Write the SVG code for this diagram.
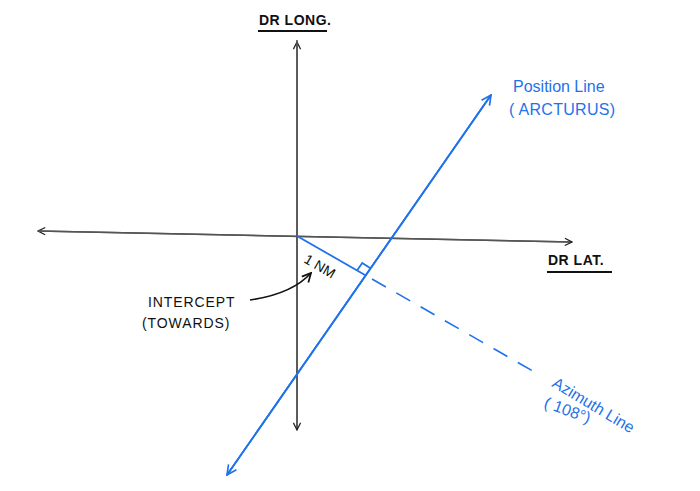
<svg xmlns="http://www.w3.org/2000/svg" width="700" height="491" viewBox="0 0 700 491">
<defs>
<style>
.axis{stroke:#555;stroke-width:1.6;fill:none}
.blue{stroke:#1f72ea;stroke-width:1.8;fill:none}
.dash{stroke:#1f72ea;stroke-width:1.6;fill:none;stroke-dasharray:16 12}
.blk{stroke:#111;stroke-width:1.6;fill:none}
.tk{font-family:"Liberation Sans",Arial,sans-serif;fill:#111;font-size:14px}
.tb{font-family:"Liberation Sans",Arial,sans-serif;fill:#1f72ea;font-size:16px}
</style>
<marker id="ag" viewBox="0 0 10 10" refX="9" refY="5" markerWidth="9" markerHeight="9" markerUnits="userSpaceOnUse" orient="auto">
<path d="M1,1 L9,5 L1,9" fill="none" stroke="#222" stroke-width="1.4"/>
</marker>
<marker id="ab" viewBox="0 0 10 10" refX="9" refY="5" markerWidth="12" markerHeight="12" markerUnits="userSpaceOnUse" orient="auto">
<path d="M1,1 L9,5 L1,9" fill="none" stroke="#1f72ea" stroke-width="1.4"/>
</marker>
<marker id="ak" viewBox="0 0 10 10" refX="9" refY="5" markerWidth="11" markerHeight="11" markerUnits="userSpaceOnUse" orient="auto">
<path d="M1,1 L9,5 L1,9" fill="none" stroke="#111" stroke-width="1.6"/>
</marker>
</defs>
<rect width="700" height="491" fill="#fff"/>
<g id="connectors">
<line class="axis" x1="297" y1="430" x2="297" y2="42" marker-end="url(#ag)"/>
<line class="axis" x1="297" y1="40" x2="297" y2="430" marker-end="url(#ag)"/>
<line class="axis" x1="572" y1="242" x2="38" y2="231" marker-end="url(#ag)"/>
<line class="axis" x1="38" y1="231" x2="572" y2="242" marker-end="url(#ag)"/>
<line class="blue" x1="227" y1="475" x2="491" y2="95" marker-end="url(#ab)"/>
<line class="blue" x1="491" y1="95" x2="227" y2="475" marker-end="url(#ab)"/>
<line class="blue" x1="297" y1="236" x2="365" y2="275"/>
<line class="dash" x1="372" y1="279" x2="538" y2="374"/>
<path class="blue" d="M357,270.5 L362.3,263 L370,268" stroke-width="1.4"/>
<path class="blk" d="M250,300 Q292,294 311,273" marker-end="url(#ak)"/>
</g>
<g id="dr-long">
<text class="tk" x="259" y="25" font-weight="bold" letter-spacing="0.5">DR LONG.</text>
<line x1="258" y1="31" x2="327" y2="31" stroke="#111" stroke-width="2"/>
</g>
<g id="dr-lat">
<text class="tk" x="548" y="265" font-weight="bold" letter-spacing="0.5">DR LAT.</text>
<line x1="547" y1="272" x2="612" y2="272" stroke="#111" stroke-width="2"/>
</g>
<g id="position-line">
<text class="tb" x="513" y="92">Position Line</text>
<text class="tb" x="509" y="115" letter-spacing="0.3">( ARCTURUS)</text>
</g>
<g id="nm">
<text class="tk" font-size="11" transform="translate(303,262) rotate(30)">1 NM</text>
</g>
<g id="intercept">
<text class="tk" x="148" y="307" letter-spacing="0.9">INTERCEPT</text>
<text class="tk" x="142" y="328" letter-spacing="0.9">(TOWARDS)</text>
</g>
<g id="azimuth">
<text class="tb" font-size="15" transform="translate(551,386) rotate(31)">Azimuth Line</text>
<text class="tb" font-size="15" transform="translate(543,407) rotate(20)">( 108°)</text>
</g>
</svg>
